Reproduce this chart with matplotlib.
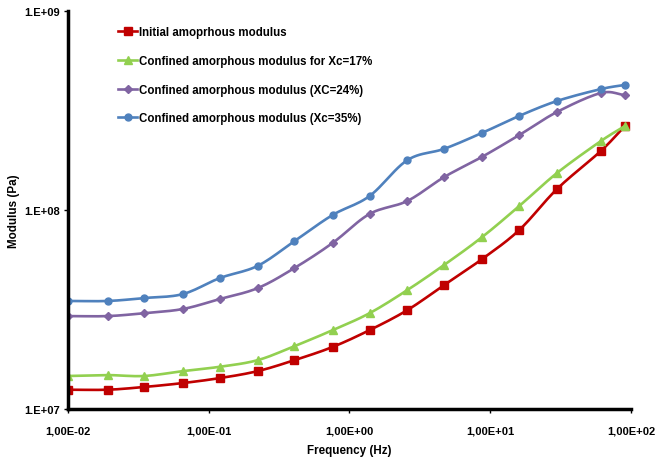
import numpy as np
import matplotlib
matplotlib.use("Agg")
import matplotlib.pyplot as plt
from matplotlib.ticker import FixedLocator, FuncFormatter, NullLocator

plt.rcParams['font.family'] = ['Liberation Sans', 'DejaVu Sans']
plt.rcParams['font.weight'] = 'bold'

# frequency sweep (Hz)
freq = [0.01, 0.0192, 0.0347, 0.0655, 0.12, 0.223, 0.407, 0.76, 1.39,
        2.58, 4.72, 8.77, 16.1, 29.9, 61.2, 90.6]

# moduli (Pa)
initial = [1.25e7, 1.25e7, 1.29e7, 1.35e7, 1.43e7, 1.55e7, 1.76e7, 2.05e7,
           2.49e7, 3.14e7, 4.20e7, 5.67e7, 7.93e7, 1.276e8, 1.98e8, 2.64e8]
xc17 = [1.465e7, 1.48e7, 1.465e7, 1.55e7, 1.63e7, 1.76e7, 2.07e7, 2.49e7,
        3.03e7, 3.96e7, 5.30e7, 7.31e7, 1.047e8, 1.535e8, 2.22e8, 2.64e8]
xc24 = [2.93e7, 2.93e7, 3.03e7, 3.18e7, 3.57e7, 4.05e7, 5.11e7, 6.83e7,
        9.55e7, 1.11e8, 1.465e8, 1.85e8, 2.38e8, 3.11e8, 3.87e8, 3.78e8]
xc35 = [3.49e7, 3.49e7, 3.61e7, 3.78e7, 4.55e7, 5.24e7, 6.98e7, 9.44e7,
        1.175e8, 1.78e8, 2.03e8, 2.44e8, 2.97e8, 3.53e8, 4.05e8, 4.25e8]

labels = ["Initial amoprhous modulus",
          "Confined amorphous modulus for Xc=17%",
          "Confined amorphous modulus (XC=24%)",
          "Confined amorphous modulus (Xc=35%)"]


def smooth(x, y, n=12):
    # Catmull-Rom curve in log-log space, like Excel's smoothed line
    lx = np.log10(x)
    ly = np.log10(y)
    px = np.concatenate([[2 * lx[0] - lx[1]], lx, [2 * lx[-1] - lx[-2]]])
    py = np.concatenate([[2 * ly[0] - ly[1]], ly, [2 * ly[-1] - ly[-2]]])
    ox, oy = [], []
    t = np.linspace(0, 1, n, endpoint=False)
    for i in range(1, len(px) - 2):
        for p, o in ((px, ox), (py, oy)):
            p0, p1, p2, p3 = p[i - 1], p[i], p[i + 1], p[i + 2]
            o.extend(0.5 * ((2 * p1) + (-p0 + p2) * t
                            + (2 * p0 - 5 * p1 + 4 * p2 - p3) * t ** 2
                            + (-p0 + 3 * p1 - 3 * p2 + p3) * t ** 3))
    ox.append(lx[-1])
    oy.append(ly[-1])
    return 10 ** np.array(ox), 10 ** np.array(oy)


fig = plt.figure(figsize=(6.62, 4.60), dpi=100)
ax = fig.add_axes([0.1027, 0.1087, 0.8503, 0.8653])

series = [
    (initial, '#C00000', 's', 6),
    (xc17, '#92D050', '^', 6),
    (xc24, '#8064A2', 'D', 4.3),
    (xc35, '#4F81BD', 'o', 5),
]
for (vals, col, mk, ms), lab in zip(series, labels):
    sx, sy = smooth(freq, vals)
    ax.plot(sx, sy, color=col, lw=1.9)
    ax.plot(freq, vals, ls='none', marker=mk, ms=ms, color=col)
    ax.plot([], [], color=col, lw=1.9, marker=mk, ms=ms, label=lab)

ax.set_xscale('log')
ax.set_yscale('log')
ax.set_xlim(0.01, 100)
ax.set_ylim(1e7, 1e9)

ax.xaxis.set_major_locator(FixedLocator([1e-2, 1e-1, 1e0, 1e1, 1e2]))
ax.yaxis.set_major_locator(FixedLocator([1e7, 1e8, 1e9]))
ax.xaxis.set_minor_locator(NullLocator())
ax.yaxis.set_minor_locator(NullLocator())
ax.xaxis.set_major_formatter(FuncFormatter(
    lambda v, p: "1,00E{:+03d}".format(int(round(np.log10(v))))))
ax.yaxis.set_major_formatter(FuncFormatter(
    lambda v, p: "1.E{:+03d}".format(int(round(np.log10(v))))))

for s in ['top', 'right']:
    ax.spines[s].set_visible(False)
for s in ['left', 'bottom']:
    ax.spines[s].set_linewidth(2.5)
ax.tick_params(axis='both', direction='out', length=3, width=1,
               labelsize=8, pad=3)
ax.tick_params(axis='x', pad=9)

ax.set_xlabel("Frequency (Hz)", fontsize=8.4, fontweight='bold', labelpad=6)
ax.set_ylabel("Modulus (Pa)", fontsize=8.4, fontweight='bold', labelpad=3)

ax.legend(loc='upper left', bbox_to_anchor=(0.071, 0.988), frameon=False,
          fontsize=8.3, labelspacing=1.45, handlelength=1.6, handletextpad=0.2)

fig.savefig("out.png", dpi=100)
